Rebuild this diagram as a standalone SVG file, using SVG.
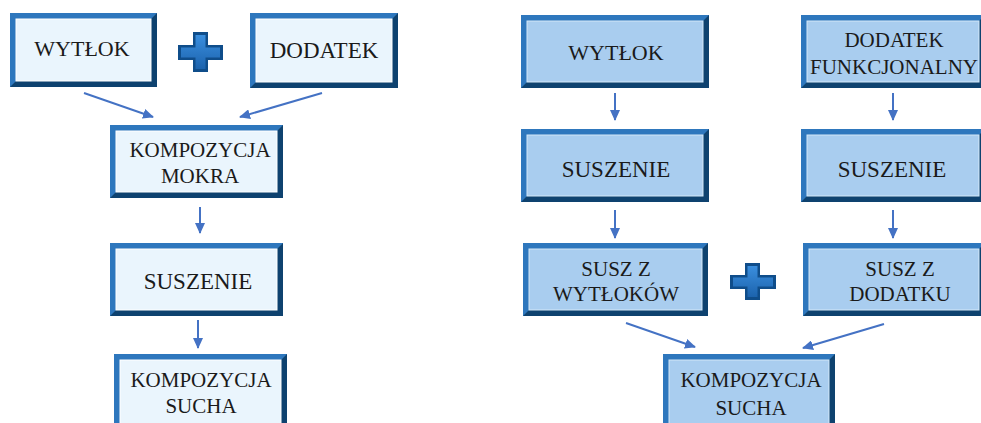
<svg xmlns="http://www.w3.org/2000/svg" width="981" height="423" viewBox="0 0 981 423">
<style>
.bg{fill:#0e426f}
.tl{fill:#2e77bd}
.inL{fill:#eaf5fd;stroke:#ffffff;stroke-width:1}
.inR{fill:#a9cdef;stroke:#d4e8f8;stroke-width:1}
text{font-family:"Liberation Serif","Times New Roman",serif;fill:#1a1a1a;text-anchor:middle}
.t23{font-size:23px}
.t22{font-size:22px}
.t21{font-size:21px}
.arr{stroke:#4472c4;stroke-width:2;fill:none;marker-end:url(#ah)}
.plusO{fill:#0f4d8a}
.plusI{fill:url(#pg)}
</style>
<defs>
<marker id="ah" markerUnits="userSpaceOnUse" markerWidth="11" markerHeight="10" refX="10" refY="5" orient="auto">
<path d="M0,0 L11,5 L0,10 z" fill="#4472c4"/>
</marker>
<linearGradient id="pg" x1="0" y1="0" x2="0" y2="1">
<stop offset="0" stop-color="#3a8ede"/>
<stop offset="1" stop-color="#1c63ad"/>
</linearGradient>
</defs>
<rect width="981" height="423" fill="#ffffff"/>

<!-- LEFT -->
<g id="l-wytlok">
<rect class="bg" x="10" y="13" width="147" height="74"/>
<polygon class="tl" points="10,13 157,13 151,19 16,19 16,81 10,87"/>
<rect class="inL" x="16" y="19" width="135" height="62"/>
<text class="t22" x="82" y="56">WYTŁOK</text>
</g>
<g id="l-plus">
<path class="plusO" d="M193,32 H208 V45 H223 V60 H208 V72 H193 V60 H178 V45 H193 Z"/>
<path class="plusI" d="M195.5,35 H205.5 V47.5 H220 V57.5 H205.5 V69 H195.5 V57.5 H181 V47.5 H195.5 Z"/>
</g>
<g id="l-dodatek">
<rect class="bg" x="250" y="13" width="148" height="75"/>
<polygon class="tl" points="250,13 398,13 392,19 256,19 256,82 250,88"/>
<rect class="inL" x="256" y="19" width="136" height="63"/>
<text class="t23" x="324" y="58">DODATEK</text>
</g>
<g id="l-mokra">
<rect class="bg" x="110" y="125" width="173" height="73"/>
<polygon class="tl" points="110,125 283,125 277,131 116,131 116,192 110,198"/>
<rect class="inL" x="116" y="131" width="161" height="61"/>
<text class="t21" x="200" y="157">KOMPOZYCJA</text>
<text class="t21" x="200" y="183">MOKRA</text>
</g>
<g id="l-suszenie">
<rect class="bg" x="110" y="243" width="173" height="73"/>
<polygon class="tl" points="110,243 283,243 277,249 116,249 116,310 110,316"/>
<rect class="inL" x="116" y="249" width="161" height="61"/>
<text class="t23" x="198" y="289">SUSZENIE</text>
</g>
<g id="l-sucha">
<rect class="bg" x="114" y="354" width="173" height="80"/>
<polygon class="tl" points="114,354 287,354 281,360 120,360 120,428 114,434"/>
<rect class="inL" x="120" y="360" width="161" height="68"/>
<text class="t21" x="201" y="387">KOMPOZYCJA</text>
<text class="t21" x="201" y="413">SUCHA</text>
</g>

<!-- RIGHT -->
<g id="r-wytlok">
<rect class="bg" x="521" y="15" width="188" height="73"/>
<polygon class="tl" points="521,15 709,15 703,21 527,21 527,82 521,88"/>
<rect class="inR" x="527" y="21" width="176" height="61"/>
<text class="t22" x="616" y="60">WYTŁOK</text>
</g>
<g id="r-dodatek">
<rect class="bg" x="801" y="15" width="184" height="73"/>
<polygon class="tl" points="801,15 985,15 979,21 807,21 807,82 801,88"/>
<rect class="inR" x="807" y="21" width="172" height="61"/>
<text class="t21" x="894" y="47">DODATEK</text>
<text class="t21" x="894" y="74">FUNKCJONALNY</text>
</g>
<g id="r-suszenie1">
<rect class="bg" x="521" y="129" width="188" height="73"/>
<polygon class="tl" points="521,129 709,129 703,135 527,135 527,196 521,202"/>
<rect class="inR" x="527" y="135" width="176" height="61"/>
<text class="t23" x="616" y="177">SUSZENIE</text>
</g>
<g id="r-suszenie2">
<rect class="bg" x="801" y="129" width="184" height="73"/>
<polygon class="tl" points="801,129 985,129 979,135 807,135 807,196 801,202"/>
<rect class="inR" x="807" y="135" width="172" height="61"/>
<text class="t23" x="892" y="177">SUSZENIE</text>
</g>
<g id="r-susz-wyt">
<rect class="bg" x="523" y="243" width="185" height="73"/>
<polygon class="tl" points="523,243 708,243 702,249 529,249 529,310 523,316"/>
<rect class="inR" x="529" y="249" width="173" height="61"/>
<text class="t21" x="616" y="276">SUSZ Z</text>
<text class="t21" x="616" y="301">WYTŁOKÓW</text>
</g>
<g id="r-plus">
<path class="plusO" d="M745,263 H760 V275 H776 V289 H760 V300 H745 V289 H730 V275 H745 Z"/>
<path class="plusI" d="M747.5,266 H757.5 V277.5 H773 V286.5 H757.5 V297 H747.5 V286.5 H733 V277.5 H747.5 Z"/>
</g>
<g id="r-susz-dod">
<rect class="bg" x="803" y="243" width="182" height="73"/>
<polygon class="tl" points="803,243 985,243 979,249 809,249 809,310 803,316"/>
<rect class="inR" x="809" y="249" width="170" height="61"/>
<text class="t21" x="900" y="276">SUSZ Z</text>
<text class="t21" x="900" y="301">DODATKU</text>
</g>
<g id="r-sucha">
<rect class="bg" x="663" y="354" width="172" height="80"/>
<polygon class="tl" points="663,354 835,354 829,360 669,360 669,428 663,434"/>
<rect class="inR" x="669" y="360" width="160" height="68"/>
<text class="t21" x="751" y="387">KOMPOZYCJA</text>
<text class="t21" x="751" y="415">SUCHA</text>
</g>

<g id="connectors">
<line class="arr" x1="84" y1="93" x2="153" y2="117"/>
<line class="arr" x1="322" y1="93" x2="240" y2="117"/>
<line class="arr" x1="200" y1="207" x2="200" y2="233"/>
<line class="arr" x1="198" y1="320" x2="198" y2="348"/>
<line class="arr" x1="615" y1="93" x2="615" y2="120"/>
<line class="arr" x1="893" y1="93" x2="893" y2="120"/>
<line class="arr" x1="615" y1="210" x2="615" y2="238"/>
<line class="arr" x1="893" y1="210" x2="893" y2="238"/>
<line class="arr" x1="626" y1="323" x2="695" y2="347"/>
<line class="arr" x1="884" y1="324" x2="803" y2="348"/>
</g>
</svg>
